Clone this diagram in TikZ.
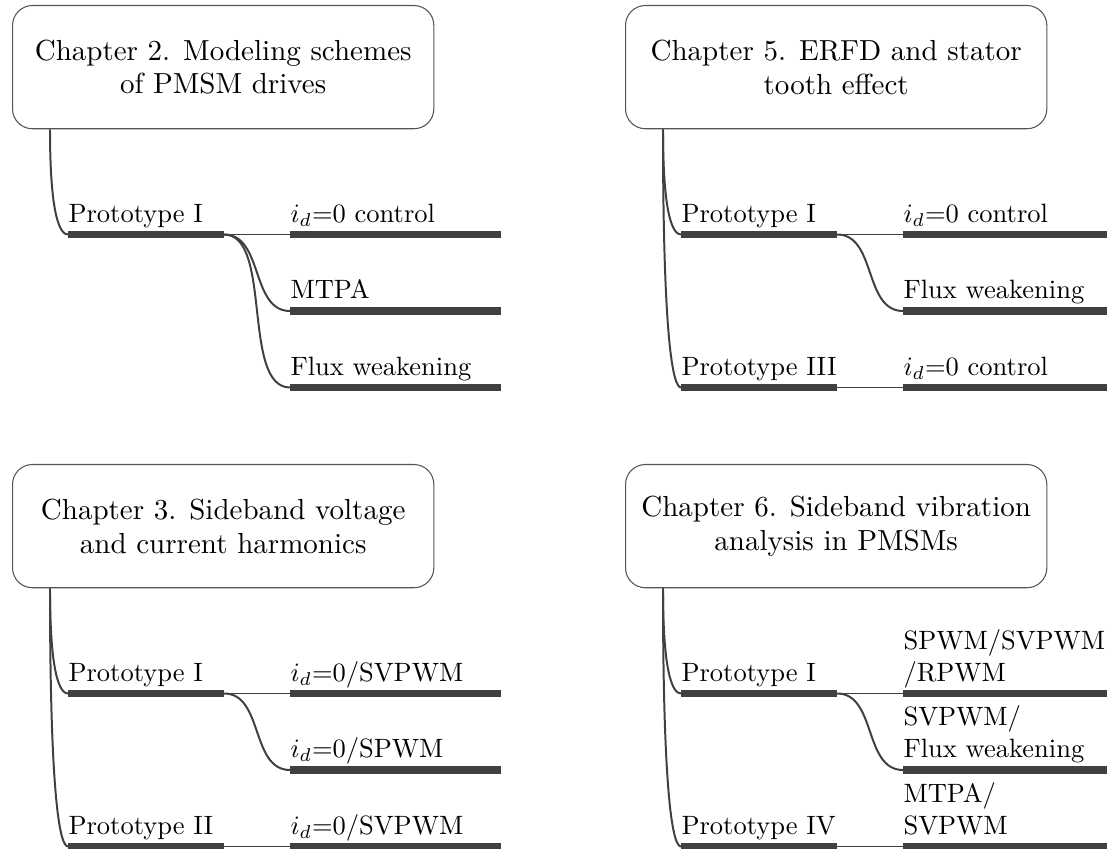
\documentclass[tikz,border=0pt]{standalone}
\usetikzlibrary{calc}
\definecolor{stem}{RGB}{64,64,64}
\definecolor{frame}{RGB}{85,85,85}
% two lines set on the baseline of the lower one
\newcommand{\twolines}[2]{\begin{tabular}[b]{@{}l@{}}#1\\#2\end{tabular}}
\begin{document}
\begin{tikzpicture}[
		x=0.3774pt,
		y=-0.3774pt,
		line cap=butt,
		chapter/.style={draw=frame,line width=0.4pt,rounded corners=7.5pt,
			minimum width=159pt,minimum height=46.5pt,inner sep=0pt,
			align=center,anchor=north west,font=\fontsize{10.95}{12.8}\selectfont},
		proto/.style={anchor=south west,text width=58.5pt,align=left,
			inner xsep=0pt,inner ysep=4.5pt,text depth=0pt},
		scheme/.style={proto,text width=79.3pt},
		bar/.style={stem,line width=2.8pt},
		link/.style={stem,line width=0.75pt},
		trunk/.style={link,out=-90,in=180,out looseness=2.1,in distance=3pt},
		twig/.style={link,out=0,in=180}
		]
		\useasboundingbox (0,0) rectangle (1107,849);
		% Chapter 2
		\node[chapter] (ch2) at (12,5) {Chapter 2. Modeling schemes\\of PMSM drives};
		\coordinate (ch2r) at ($(ch2.south west)+(38,0)$);
		\node[proto] (ch2p1) at (68,234.5) {Prototype I};
		\node[scheme] (ch2a) at (290,234.5) {$i_d$=0 control};
		\node[scheme] (ch2b) at (290,311) {MTPA};
		\node[scheme] (ch2c) at (290,387.5) {Flux weakening};
		\draw[trunk] (ch2r) to (ch2p1.south west);
		\draw[link] (ch2p1.south east) -- (ch2a.south west);
		\draw[twig] (ch2p1.south east) to (ch2b.south west);
		\draw[twig,looseness=0.75] (ch2p1.south east) to (ch2c.south west);
		\draw[bar] (ch2p1.south west) -- (ch2p1.south east)
			(ch2a.south west) -- (ch2a.south east)
			(ch2b.south west) -- (ch2b.south east)
			(ch2c.south west) -- (ch2c.south east);
		% Chapter 5
		\node[chapter] (ch5) at (625,5) {Chapter 5. ERFD and stator\\tooth effect};
		\coordinate (ch5r) at ($(ch5.south west)+(38,0)$);
		\node[proto] (ch5p1) at (681,234.5) {Prototype I};
		\node[scheme] (ch5a) at (903,234.5) {$i_d$=0 control};
		\node[scheme] (ch5b) at (903,311) {Flux weakening};
		\node[proto] (ch5p3) at (681,387.5) {Prototype~III};
		\node[scheme] (ch5c) at (903,387.5) {$i_d$=0 control};
		\draw[trunk] (ch5r) to (ch5p1.south west);
		\draw[trunk] (ch5r) to (ch5p3.south west);
		\draw[link] (ch5p1.south east) -- (ch5a.south west);
		\draw[twig] (ch5p1.south east) to (ch5b.south west);
		\draw[link] (ch5p3.south east) -- (ch5c.south west);
		\draw[bar] (ch5p1.south west) -- (ch5p1.south east)
			(ch5a.south west) -- (ch5a.south east)
			(ch5b.south west) -- (ch5b.south east)
			(ch5p3.south west) -- (ch5p3.south east)
			(ch5c.south west) -- (ch5c.south east);
		% Chapter 3
		\node[chapter] (ch3) at (12,464) {Chapter 3. Sideband voltage\\and current harmonics};
		\coordinate (ch3r) at ($(ch3.south west)+(38,0)$);
		\node[proto] (ch3p1) at (68,693.5) {Prototype I};
		\node[scheme] (ch3a) at (290,693.5) {$i_d$=0/SVPWM};
		\node[scheme] (ch3b) at (290,770) {$i_d$=0/SPWM};
		\node[proto] (ch3p2) at (68,846.5) {Prototype II};
		\node[scheme] (ch3c) at (290,846.5) {$i_d$=0/SVPWM};
		\draw[trunk] (ch3r) to (ch3p1.south west);
		\draw[trunk] (ch3r) to (ch3p2.south west);
		\draw[link] (ch3p1.south east) -- (ch3a.south west);
		\draw[twig] (ch3p1.south east) to (ch3b.south west);
		\draw[link] (ch3p2.south east) -- (ch3c.south west);
		\draw[bar] (ch3p1.south west) -- (ch3p1.south east)
			(ch3a.south west) -- (ch3a.south east)
			(ch3b.south west) -- (ch3b.south east)
			(ch3p2.south west) -- (ch3p2.south east)
			(ch3c.south west) -- (ch3c.south east);
		% Chapter 6
		\node[chapter] (ch6) at (625,464) {Chapter 6. Sideband vibration\\analysis in PMSMs};
		\coordinate (ch6r) at ($(ch6.south west)+(38,0)$);
		\node[proto] (ch6p1) at (681,693.5) {Prototype I};
		\node[scheme] (ch6a) at (903,693.5) {\twolines{SPWM/SVPWM}{/RPWM}};
		\node[scheme] (ch6b) at (903,770) {\twolines{SVPWM/}{Flux weakening}};
		\node[proto] (ch6p4) at (681,846.5) {Prototype IV};
		\node[scheme] (ch6c) at (903,846.5) {\twolines{MTPA/}{SVPWM}};
		\draw[trunk] (ch6r) to (ch6p1.south west);
		\draw[trunk] (ch6r) to (ch6p4.south west);
		\draw[link] (ch6p1.south east) -- (ch6a.south west);
		\draw[twig] (ch6p1.south east) to (ch6b.south west);
		\draw[link] (ch6p4.south east) -- (ch6c.south west);
		\draw[bar] (ch6p1.south west) -- (ch6p1.south east)
			(ch6a.south west) -- (ch6a.south east)
			(ch6b.south west) -- (ch6b.south east)
			(ch6p4.south west) -- (ch6p4.south east)
			(ch6c.south west) -- (ch6c.south east);
\end{tikzpicture}
\end{document}
